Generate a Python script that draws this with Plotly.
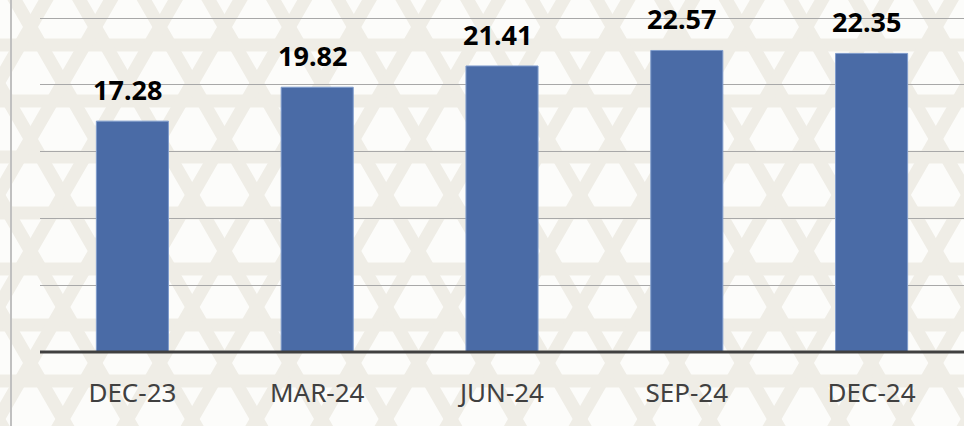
import math
import plotly.graph_objects as go

categories = ["DEC-23", "MAR-24", "JUN-24", "SEP-24", "DEC-24"]
values = [17.28, 19.82, 21.41, 22.57, 22.35]
labels = ["17.28", "19.82", "21.41", "22.57", "22.35"]
y_ticks = [0, 5, 10, 15, 20, 25]

W, H = 964, 426
ML, MR, MT, MB = 40, 0, 16, 74
PW, PH = W - ML - MR, H - MT - MB

fig = go.Figure()
fig.add_trace(go.Bar(
    x=categories, y=values,
    marker=dict(color="#4a6ba6", line=dict(color="#7f9ccc", width=1)),
    hoverinfo="skip",
))
for c, v, t in zip(categories, values, labels):
    fig.add_annotation(x=c, y=v, text=t, showarrow=False, yanchor="bottom",
                       yshift=11, xshift=-5,
                       font=dict(family="Noto Sans", size=27, color="#000000", weight="bold"))

fig.update_layout(
    width=W, height=H,
    margin=dict(l=ML, r=MR, t=MT, b=MB),
    paper_bgcolor="#fcfcfa", plot_bgcolor="rgba(0,0,0,0)",
    bargap=0.61, showlegend=False,
    font=dict(family="Noto Sans", color="#404040"),
)
fig.update_xaxes(
    showgrid=False, showline=False, ticks="", ticklabelstandoff=23,
    tickfont=dict(size=26, color="#404040"),
)
fig.update_yaxes(
    range=[0, 25.15], tickvals=y_ticks, showticklabels=False,
    showgrid=True, gridcolor="#a8a8a8", gridwidth=1, zeroline=False,
)

# decorative lattice background (pixel geometry -> paper coords)
def P(px, py):
    return (px - ML) / PW, (H - MB - py) / PH

def path_for(angle_deg, spacing, offset):
    a = math.radians(angle_deg)
    dx, dy = math.cos(a), math.sin(a)
    nx, ny = -dy, dx
    segs = []
    L = 1400
    cx, cy = W / 2, H / 2
    for k in range(-30, 31):
        d = k * spacing + offset
        ox, oy = cx + nx * d, cy + ny * d
        x0, y0 = P(ox - dx * L, oy - dy * L)
        x1, y1 = P(ox + dx * L, oy + dy * L)
        segs.append(f"M{x0:.4f},{y0:.4f} L{x1:.4f},{y1:.4f}")
    return " ".join(segs)

band = "#efede6"
for ang, off in [(0, 0), (60, 18), (120, 36)]:
    fig.add_shape(type="path", xref="paper", yref="paper",
                  path=path_for(ang, 56, off), layer="below",
                  line=dict(color=band, width=13))

# baseline
fig.add_shape(type="line", xref="paper", yref="paper", x0=0, x1=1, y0=0, y1=0,
              line=dict(color="#404040", width=3))
# left border line
lx, _ = P(11, 0)
fig.add_shape(type="line", xref="paper", yref="paper", x0=lx, x1=lx,
              y0=-0.3, y1=1.1, line=dict(color="#c0c0c0", width=2))

fig.write_html("out.html", config={"displayModeBar": False},
               post_script="document.body.style.margin='0';document.body.style.overflow='hidden';")
